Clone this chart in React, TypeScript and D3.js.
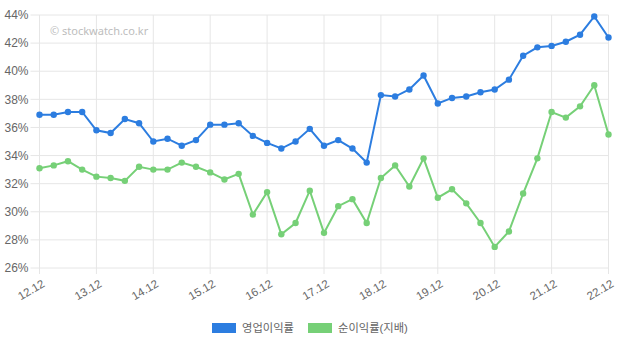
import React from "react";
import * as d3 from "d3";

// quarterly periods (yy.mm)
const periods = [
  "12.12", "13.03", "13.06", "13.09", "13.12", "14.03", "14.06", "14.09",
  "14.12", "15.03", "15.06", "15.09", "15.12", "16.03", "16.06", "16.09",
  "16.12", "17.03", "17.06", "17.09", "17.12", "18.03", "18.06", "18.09",
  "18.12", "19.03", "19.06", "19.09", "19.12", "20.03", "20.06", "20.09",
  "20.12", "21.03", "21.06", "21.09", "21.12", "22.03", "22.06", "22.09",
  "22.12",
];

const operatingMargin = [
  36.9, 36.9, 37.1, 37.1, 35.8, 35.6, 36.6, 36.3, 35.0, 35.2, 34.7, 35.1,
  36.2, 36.2, 36.3, 35.4, 34.9, 34.5, 35.0, 35.9, 34.7, 35.1, 34.5, 33.5,
  38.3, 38.2, 38.7, 39.7, 37.7, 38.1, 38.2, 38.5, 38.7, 39.4, 41.1, 41.7,
  41.8, 42.1, 42.6, 43.9, 42.4,
];

const netMargin = [
  33.1, 33.3, 33.6, 33.0, 32.5, 32.4, 32.2, 33.2, 33.0, 33.0, 33.5, 33.2,
  32.8, 32.3, 32.7, 29.8, 31.4, 28.4, 29.2, 31.5, 28.5, 30.4, 30.9, 29.2,
  32.4, 33.3, 31.8, 33.8, 31.0, 31.6, 30.6, 29.2, 27.5, 28.6, 31.3, 33.8,
  37.1, 36.7, 37.5, 39.0, 35.5,
];

const yTicks = [26, 28, 30, 32, 34, 36, 38, 40, 42, 44];
const xTickLabels = ["12.12", "13.12", "14.12", "15.12", "16.12", "17.12", "18.12", "19.12", "20.12", "21.12", "22.12"];

const series = [
  { name: "영업이익률", values: operatingMargin, color: "#2c7de0" },
  { name: "순이익률(지배)", values: netMargin, color: "#76d077" },
];

const W = 618;
const H = 345;
const plot = { left: 39.5, right: 608.5, top: 15, bottom: 268 };
const font = "'Liberation Sans', Arial, 'Noto Sans CJK KR', sans-serif";

export default function App() {
  const x = d3.scalePoint<string>().domain(periods).range([plot.left, plot.right]);
  const y = d3.scaleLinear().domain([26, 44]).range([plot.bottom, plot.top]);

  const line = d3
    .line<number>()
    .x((_, i) => x(periods[i]) as number)
    .y((d) => y(d));

  return (
    <svg
      width={W}
      height={H}
      style={{ position: "absolute", left: 0, top: 0, fontFamily: font }}
    >
      <rect width={W} height={H} fill="#fff" />

      {/* horizontal grid */}
      {yTicks.map((t) => (
        <g key={t}>
          <line x1={plot.left - 9} x2={plot.right} y1={y(t)} y2={y(t)} stroke="#e6e6e6" />
          <text x={plot.left - 11} y={y(t)} dy="0.35em" textAnchor="end" fontSize={12} fill="#666">
            {t}%
          </text>
        </g>
      ))}

      {/* vertical grid */}
      {xTickLabels.map((p) => {
        const px = x(p) as number;
        return (
          <g key={p}>
            <line x1={px} x2={px} y1={plot.top} y2={plot.bottom + 6} stroke="#e6e6e6" />
            <text
              transform={`translate(${px + 2},${plot.bottom + 11}) rotate(-30)`}
              textAnchor="end"
              dy="0.71em"
              fontSize={11.5}
              fill="#666"
            >
              {p}
            </text>
          </g>
        );
      })}

      <text x={50} y={35} fontSize={11} fill="#bdbdbd" fontFamily="'Noto Sans', sans-serif">
        © stockwatch.co.kr
      </text>

      {series.map((s) => (
        <g key={s.name}>
          <path d={line(s.values) ?? ""} fill="none" stroke={s.color} strokeWidth={2} />
          {s.values.map((v, i) => (
            <circle key={i} cx={x(periods[i]) as number} cy={y(v)} r={3.2} fill={s.color} />
          ))}
        </g>
      ))}

      {/* legend */}
      <g fontSize={11.3} fill="#666">
        <rect x={212} y={323} width={24} height={10} fill={series[0].color} />
        <text x={242} y={328} dy="0.35em">{series[0].name}</text>
        <rect x={308} y={323} width={24} height={10} fill={series[1].color} />
        <text x={338} y={328} dy="0.35em">{series[1].name}</text>
      </g>
    </svg>
  );
}
